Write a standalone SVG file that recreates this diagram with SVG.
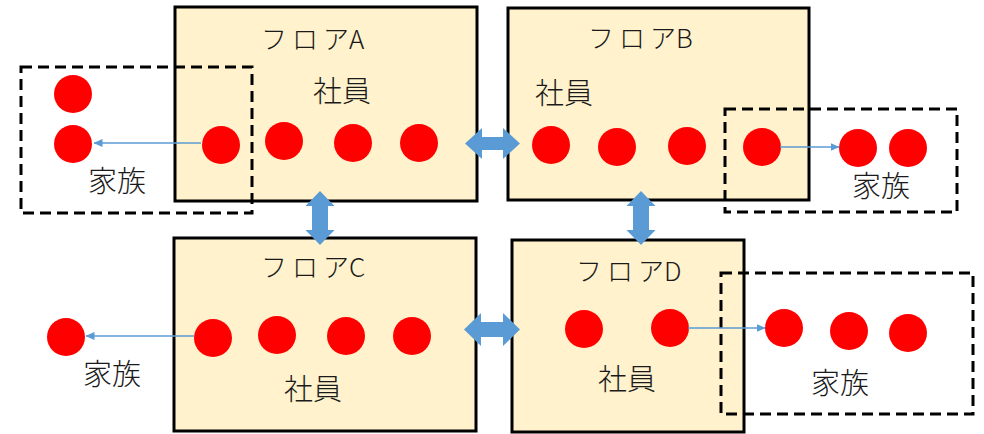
<svg xmlns="http://www.w3.org/2000/svg" width="984" height="434" viewBox="0 0 984 434">
<defs>
<style>
.floor{fill:#FFF2CC;stroke:#000;stroke-width:3}
.fam{fill:none;stroke:#000;stroke-width:3;stroke-dasharray:11 6}
.dot{fill:#FF0000}
.t{font-family:"Noto Sans CJK JP","Noto Sans",sans-serif;font-size:29px;fill:#1a1a1a;text-anchor:middle;font-weight:300}
.h{font-family:"Noto Sans CJK JP","Noto Sans",sans-serif;font-size:26px;fill:#1a1a1a;font-weight:300}
.sp{letter-spacing:5px}
.link{stroke:#5B9BD5;stroke-width:1.5;fill:none;marker-end:url(#ah)}
.blk{fill:#5B9BD5}
</style>
<marker id="ah" markerWidth="9" markerHeight="8" refX="8.5" refY="4" orient="auto" markerUnits="userSpaceOnUse">
<path d="M0,0 L9,4 L0,8 Z" fill="#5B9BD5"/>
</marker>
</defs>

<g id="floorA">
<rect class="floor" x="175" y="7" width="302" height="194"/>
<text class="h" x="261" y="49"><tspan class="sp">フロ</tspan>アA</text>
<text class="t" x="342" y="102">社員</text>
<circle class="dot" cx="221" cy="145" r="19"/>
<circle class="dot" cx="284" cy="141" r="19"/>
<circle class="dot" cx="353" cy="143" r="19"/>
<circle class="dot" cx="419" cy="143" r="19"/>
</g>

<g id="floorB">
<rect class="floor" x="508" y="8" width="301" height="192"/>
<text class="h" x="588" y="48"><tspan class="sp">フロ</tspan>アB</text>
<text class="t" x="564" y="104">社員</text>
<circle class="dot" cx="551" cy="145" r="19"/>
<circle class="dot" cx="617" cy="147" r="19"/>
<circle class="dot" cx="687" cy="146" r="19"/>
<circle class="dot" cx="762" cy="147" r="19"/>
</g>

<g id="floorC">
<rect class="floor" x="174" y="238" width="302" height="193"/>
<text class="h" x="261" y="277"><tspan class="sp">フロ</tspan>アC</text>
<text class="t" x="313" y="400">社員</text>
<circle class="dot" cx="213" cy="338" r="19"/>
<circle class="dot" cx="277" cy="335" r="19"/>
<circle class="dot" cx="346" cy="336" r="19"/>
<circle class="dot" cx="412" cy="336" r="19"/>
</g>

<g id="floorD">
<rect class="floor" x="512" y="240" width="232" height="192"/>
<text class="h" x="576" y="281"><tspan class="sp">フロ</tspan>アD</text>
<text class="t" x="627" y="390">社員</text>
<circle class="dot" cx="584" cy="329" r="19"/>
<circle class="dot" cx="670" cy="328" r="19"/>
</g>

<g id="familyA">
<rect class="fam" x="21" y="67" width="231" height="146"/>
<circle class="dot" cx="73" cy="94" r="19"/>
<circle class="dot" cx="73" cy="144" r="19"/>
<text class="t" x="117" y="192">家族</text>
</g>

<g id="familyB">
<rect class="fam" x="725" y="109" width="232" height="103"/>
<circle class="dot" cx="858" cy="148" r="19"/>
<circle class="dot" cx="908" cy="148" r="19"/>
<text class="t" x="881" y="197">家族</text>
</g>

<g id="familyC">
<circle class="dot" cx="66" cy="337" r="19"/>
<text class="t" x="112" y="385">家族</text>
</g>

<g id="familyD">
<rect class="fam" x="721" y="273" width="252" height="141"/>
<circle class="dot" cx="784" cy="328" r="19"/>
<circle class="dot" cx="849" cy="331" r="19"/>
<circle class="dot" cx="908" cy="333" r="19"/>
<text class="t" x="840" y="394">家族</text>
</g>

<g id="connectors">
<line class="link" x1="201" y1="143" x2="94" y2="143"/>
<line class="link" x1="780" y1="147" x2="839" y2="147"/>
<line class="link" x1="194" y1="336" x2="86" y2="336"/>
<line class="link" x1="688" y1="328" x2="765" y2="328"/>
<polygon class="blk" points="465,143.5 482,128 482,137 503,137 503,128 520,143.5 503,159 503,150 482,150 482,159"/>
<polygon class="blk" points="464,329.5 481,313 481,322 503,322 503,313 520,329.5 503,346 503,337 481,337 481,346"/>
<polygon class="blk" points="320,191 334.5,206 328,206 328,230 334.5,230 320,245 305.5,230 312,230 312,206 305.5,206"/>
<polygon class="blk" points="641,191 655.5,206 649,206 649,230 655.5,230 641,245 626.5,230 633,230 633,206 626.5,206"/>
</g>
</svg>
